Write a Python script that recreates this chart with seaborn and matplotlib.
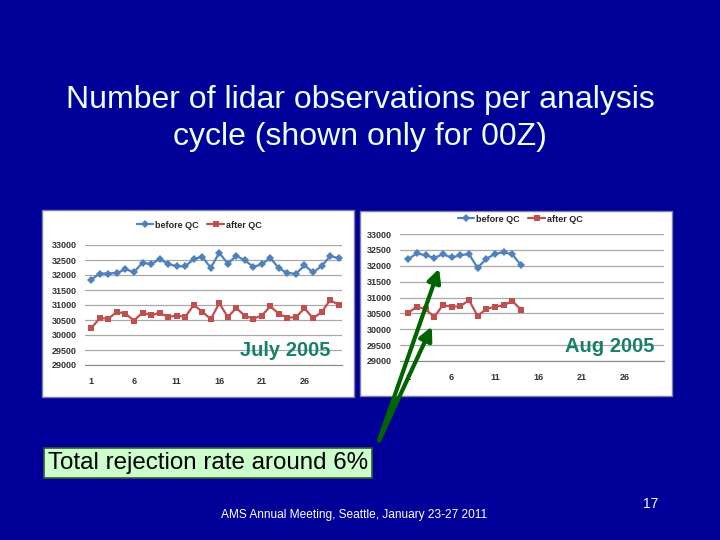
import pandas as pd
import matplotlib
matplotlib.use("Agg")
import matplotlib.pyplot as plt
import seaborn as sns
from matplotlib.patches import Rectangle, FancyArrowPatch
from matplotlib.lines import Line2D

# daily lidar observation counts at 00Z
july_days = list(range(1, 31))
july_before = [31850, 32050, 32050, 32070, 32190, 32100, 32410, 32360, 32530, 32370,
               32290, 32290, 32530, 32610, 32240, 32740, 32380, 32640, 32490, 32270,
               32360, 32570, 32220, 32070, 32040, 32320, 32090, 32290, 32630, 32560]
july_after = [30240, 30560, 30550, 30770, 30710, 30480, 30750, 30660, 30740, 30600,
              30650, 30600, 31000, 30780, 30530, 31060, 30600, 30900, 30640, 30540,
              30650, 30960, 30700, 30580, 30590, 30890, 30560, 30760, 31160, 31010]

aug_days = list(range(1, 15))
aug_before = [32210, 32390, 32330, 32250, 32360, 32260, 32330, 32370, 31930, 32220,
              32370, 32430, 32360, 32020]
aug_after = [30520, 30710, 30630, 30390, 30760, 30710, 30720, 30920, 30420, 30640,
             30710, 30750, 30890, 30620]

series_names = ["before QC", "after QC"]
y_ticks = list(range(29000, 33001, 500))
x_ticks = [1, 6, 11, 16, 21, 26]

bg = "#000099"
colors = {"before QC": "#4f81bd", "after QC": "#c0504d"}
markers = {"before QC": "D", "after QC": "s"}
msize = {"before QC": 4.2, "after QC": 4.6}


def to_long(days, before, after):
    df = pd.DataFrame({"day": days, "before QC": before, "after QC": after})
    return df.melt(id_vars="day", var_name="series", value_name="count")


sns.set_style("white")
plt.rcParams["font.family"] = ["Liberation Sans", "DejaVu Sans"]

fig = plt.figure(figsize=(7.2, 5.4), dpi=100, facecolor=bg)
W, H = 720, 540


def fx(x):
    return x / W


def fy(y):
    return 1 - y / H


# white chart panels (behind the axes)
fig.patches.append(Rectangle((fx(42), fy(397)), fx(312), 187 / H, transform=fig.transFigure,
                             facecolor="white", edgecolor="#7f7f9f", lw=1, zorder=-5))
fig.patches.append(Rectangle((fx(360), fy(396)), fx(312), 185 / H, transform=fig.transFigure,
                             facecolor="white", edgecolor="#7f7f9f", lw=1, zorder=-5))

panels = [
    ([fx(85), fy(365), fx(257), 120 / H], to_long(july_days, july_before, july_after),
     (0.25, 30.4), "July 2005", (fx(285), fy(351)), (fx(199), fy(225))),
    ([fx(400), fy(361), fx(264), 127 / H], to_long(aug_days, aug_before, aug_after),
     (0.05, 30.5), "Aug 2005", (fx(610), fy(346)), (fx(520), fy(219))),
]

for rect, df, xlim, label, label_pos, legend_pos in panels:
    ax = fig.add_axes(rect)
    ax.set_facecolor("white")
    sns.lineplot(data=df, x="day", y="count", hue="series", style="series",
                 hue_order=series_names, style_order=series_names,
                 palette=colors, markers=markers, dashes=False, markersize=4.5,
                 markeredgewidth=0, lw=1.6, legend=False, ax=ax)
    for line in ax.lines:
        if line.get_marker() == "s":
            line.set_markersize(msize["after QC"])
        elif line.get_marker() == "D":
            line.set_markersize(msize["before QC"])
    ax.set_ylim(29000, 33000)
    ax.set_xlim(*xlim)
    ax.set_yticks(y_ticks)
    ax.set_xticks(x_ticks)
    ax.set_xticks(range(1, 31), minor=True)
    ax.grid(axis="y", color="#a8a8a8", lw=0.9)
    ax.set_axisbelow(True)
    for s in ["top", "right", "left"]:
        ax.spines[s].set_visible(False)
    ax.spines["bottom"].set_color("#888888")
    ax.tick_params(axis="x", which="both", direction="out", length=3, color="#888888",
                   labelsize=6.5, pad=6)
    ax.tick_params(axis="y", length=0, labelsize=6.5, pad=6)
    for t in ax.get_xticklabels() + ax.get_yticklabels():
        t.set_fontweight("bold")
        t.set_color("#333333")
    ax.set_xlabel("")
    ax.set_ylabel("")
    fig.text(label_pos[0], label_pos[1], label, color="#17806a", fontsize=14.5,
             fontweight="bold", ha="center", va="center")
    handles = [Line2D([], [], color=colors[n], marker=markers[n], markersize=msize[n],
                      markeredgewidth=0, lw=1.6) for n in series_names]
    fig.legend(handles, series_names, loc="center", ncol=2, frameon=False,
               bbox_to_anchor=legend_pos,
               handlelength=1.8, columnspacing=1.0, handletextpad=0.2,
               prop={"weight": "bold", "size": 6.5})

# title
fig.text(0.5, fy(100), "Number of lidar observations per analysis", color="#eaffff",
         fontsize=23, ha="center", va="center")
fig.text(0.5, fy(137), "cycle (shown only for 00Z)", color="#eaffff",
         fontsize=23, ha="center", va="center")

# arrows from the note box to the August curves
for tip in [(440, 266), (433, 324)]:
    fig.patches.append(FancyArrowPatch((fx(378), fy(443)), (fx(tip[0]), fy(tip[1])),
                                       transform=fig.transFigure, arrowstyle="-|>",
                                       mutation_scale=20, color="#006400", lw=3, zorder=5))

fig.text(fx(48), fy(463), "Total rejection rate around 6%", color="#000000", fontsize=17.4,
         ha="left", va="center",
         bbox=dict(boxstyle="square,pad=0.18", facecolor="#ccffcc", edgecolor="#2f5f2f", lw=1.2))

fig.text(fx(354), fy(515), "AMS Annual Meeting, Seattle, January 23-27 2011", color="white",
         fontsize=8.6, ha="center", va="center")
fig.text(fx(651), fy(504), "17", color="white", fontsize=10, ha="center", va="center")

fig.savefig("out.png", dpi=100, facecolor=bg)
